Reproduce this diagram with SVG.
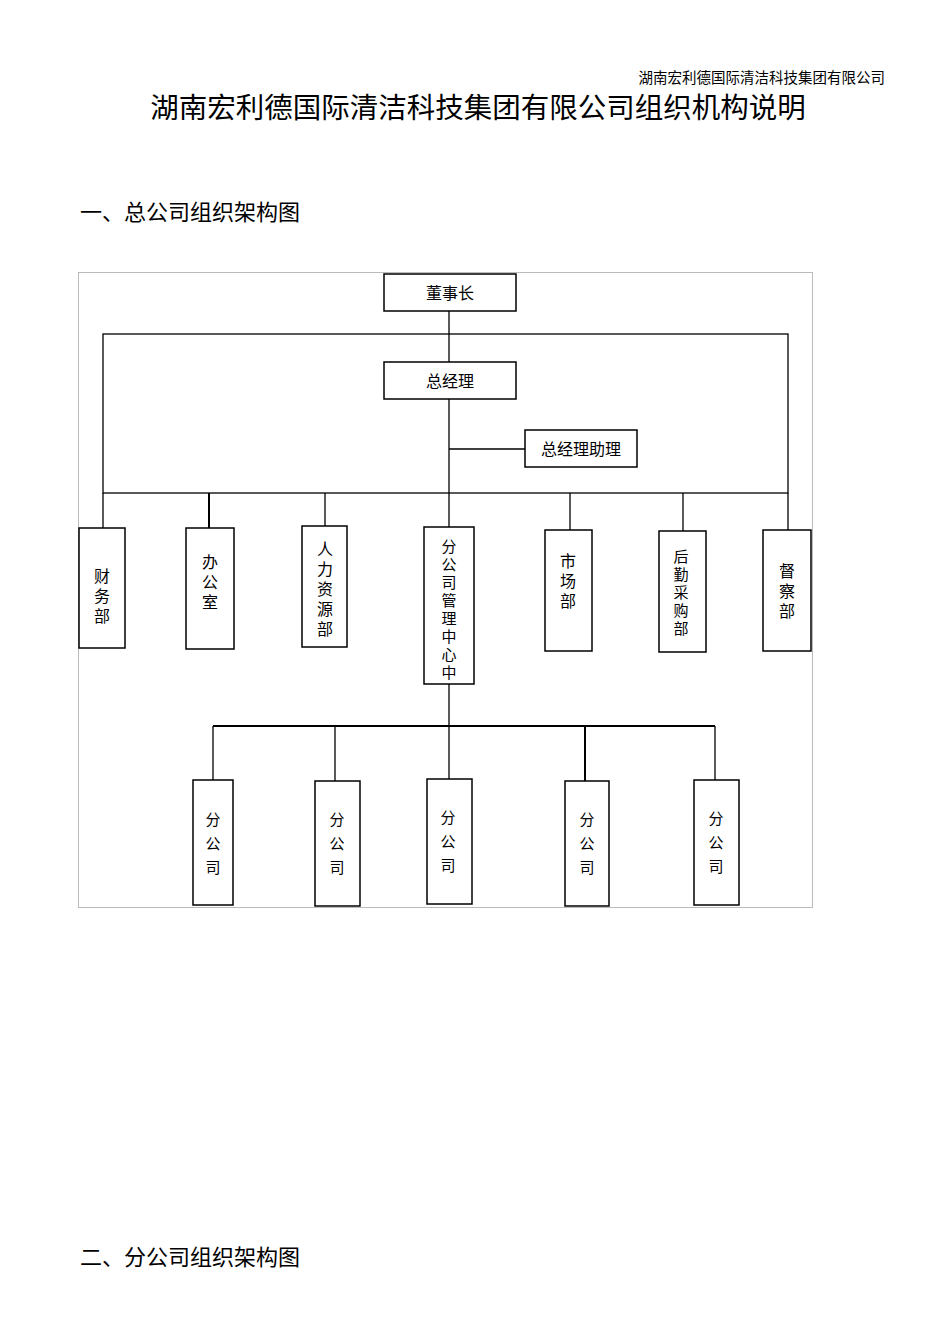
<svg xmlns="http://www.w3.org/2000/svg" width="950" height="1344" viewBox="0 0 950 1344">
<style>
text{font-family:"Noto Sans CJK SC","Noto Sans",sans-serif;fill:#000}
.b{fill:#fff;stroke:#000;stroke-width:1.5}
.l{stroke:#000;stroke-width:1.3;fill:none}
.v{font-size:16px;writing-mode:vertical-rl;letter-spacing:4px}
.v8{font-size:15px;writing-mode:vertical-rl;letter-spacing:3px}
.f{font-size:15px;writing-mode:vertical-rl;letter-spacing:9px}
</style>
<rect width="950" height="1344" fill="#fff"/>
<text x="885" y="83" font-size="14.5" text-anchor="end">湖南宏利德国际清洁科技集团有限公司</text>
<text x="478" y="118" font-size="28.5" text-anchor="middle">湖南宏利德国际清洁科技集团有限公司组织机构说明</text>
<text x="80" y="220" font-size="22">一、总公司组织架构图</text>
<text x="80" y="1265" font-size="22">二、分公司组织架构图</text>
<rect x="78.5" y="272.5" width="734" height="635" fill="none" stroke="#bbb" stroke-width="1"/>
<g id="connectors" class="l">
<line x1="449" y1="311" x2="449" y2="362"/>
<line x1="449" y1="399" x2="449" y2="527"/>
<line x1="449" y1="449" x2="525" y2="449"/>
<rect x="103" y="334" width="685" height="159"/>
<line x1="103" y1="493" x2="103" y2="528"/>
<line x1="209" y1="493" x2="209" y2="528" stroke-width="2"/>
<line x1="325" y1="493" x2="325" y2="526"/>
<line x1="570" y1="493" x2="570" y2="530"/>
<line x1="683" y1="493" x2="683" y2="531"/>
<line x1="788" y1="493" x2="788" y2="530"/>
<line x1="449" y1="684" x2="449" y2="726"/>
<line x1="213" y1="726" x2="715" y2="726" stroke-width="2"/>
<line x1="213" y1="726" x2="213" y2="780"/>
<line x1="335" y1="726" x2="335" y2="781"/>
<line x1="449" y1="726" x2="449" y2="779"/>
<line x1="585" y1="726" x2="585" y2="781" stroke-width="2"/>
<line x1="715" y1="726" x2="715" y2="780"/>
</g>
<g id="n1"><rect class="b" x="384" y="274" width="132" height="37"/><text x="450" y="299" font-size="16" text-anchor="middle">董事长</text></g>
<g id="n2"><rect class="b" x="384" y="362" width="132" height="37"/><text x="450" y="387" font-size="16" text-anchor="middle">总经理</text></g>
<g id="n3"><rect class="b" x="525" y="430" width="112" height="37"/><text x="581" y="455" font-size="16" text-anchor="middle">总经理助理</text></g>
<g id="d1"><rect class="b" x="79" y="528" width="46" height="120"/><text class="v" x="102" y="568">财务部</text></g>
<g id="d2"><rect class="b" x="186" y="528" width="48" height="121"/><text class="v" x="210" y="554">办公室</text></g>
<g id="d3"><rect class="b" x="302" y="526" width="45" height="121"/><text class="v" x="325" y="541">人力资源部</text></g>
<g id="d4"><rect class="b" x="424" y="527" width="50" height="157"/><text class="v8" x="449" y="539">分公司管理中心中</text></g>
<g id="d5"><rect class="b" x="545" y="530" width="47" height="121"/><text class="v" x="568" y="553">市场部</text></g>
<g id="d6"><rect class="b" x="659" y="531" width="47" height="121"/><text class="v8" x="681" y="549">后勤采购部</text></g>
<g id="d7"><rect class="b" x="763" y="530" width="48" height="121"/><text class="v" x="787" y="563">督察部</text></g>
<g id="b1"><rect class="b" x="193" y="780" width="40" height="125"/><text class="f" x="213" y="812">分公司</text></g>
<g id="b2"><rect class="b" x="315" y="781" width="45" height="125"/><text class="f" x="337" y="812">分公司</text></g>
<g id="b3"><rect class="b" x="427" y="779" width="45" height="125"/><text class="f" x="448" y="810">分公司</text></g>
<g id="b4"><rect class="b" x="565" y="781" width="44" height="125"/><text class="f" x="587" y="812">分公司</text></g>
<g id="b5"><rect class="b" x="694" y="780" width="45" height="125"/><text class="f" x="716" y="811">分公司</text></g>
</svg>
